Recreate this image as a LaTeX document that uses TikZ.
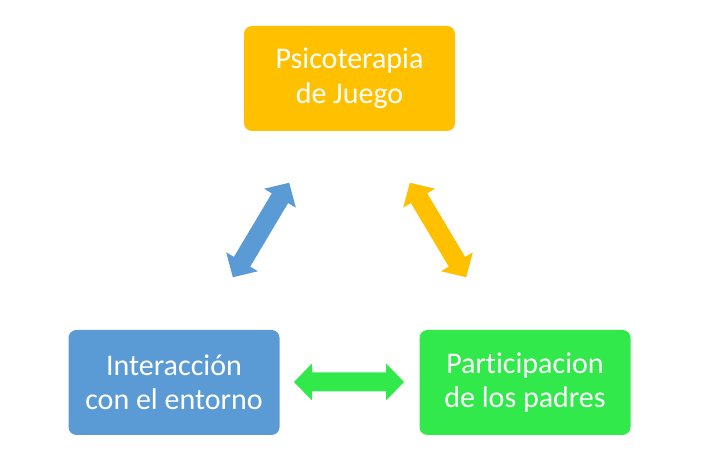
\documentclass[tikz,border=0pt]{standalone}
\usepackage{fontspec}
\setmainfont[Ligatures=NoCommon]{Carlito}
\definecolor{cOrange}{RGB}{255,192,0}
\definecolor{cBlue}{RGB}{91,155,213}
\definecolor{cGreen}{RGB}{50,233,76}
\begin{document}
\begin{tikzpicture}[x=1pt,y=1pt,
  box/.style={rounded corners=8pt, minimum width=211pt, minimum height=105pt,
    text=white, font=\fontsize{30}{34.5}\selectfont, align=center, inner sep=0pt},
  fatarrow/.pic={
    \fill[pic actions] (-55,0) -- (-37,18.5) -- (-37,9.5) -- (37,9.5) -- (37,18.5) -- (55,0)
      -- (37,-18.5) -- (37,-9.5) -- (-37,-9.5) -- (-37,-18.5) -- cycle;
  }]
\useasboundingbox (0,0) rectangle (701,454);
\node[box, fill=cOrange] (psi) at (349.5,375.5) {Psicoterapia\\de Juego};
\node[box, fill=cBlue] (inter) at (174,71.5) {Interacción\\con el entorno};
\node[box, fill=cGreen] (padres) at (525,71.5) {Participacion\\de los padres};
\pic[fill=cBlue] at (261,224) [rotate=59.2] {fatarrow};
\pic[fill=cOrange] at (438,224) [rotate=-59.2] {fatarrow};
\pic[fill=cGreen] at (349,72) {fatarrow};
\end{tikzpicture}
\end{document}
